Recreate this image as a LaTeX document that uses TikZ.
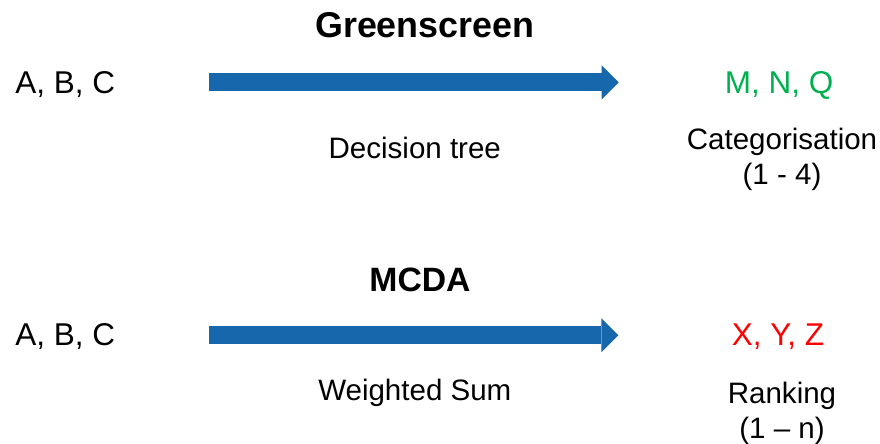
\documentclass[tikz,border=0pt]{standalone}
\usepackage{fontspec}
\setmainfont{Liberation Sans}
\usepackage{xcolor}
\usepackage{tikz}
\usetikzlibrary{arrows.meta, positioning}
\definecolor{myblue}{RGB}{22,103,172}
\definecolor{mygreen}{RGB}{0,176,80}
\definecolor{myred}{RGB}{255,0,0}
\tikzstyle{item} = [inner sep=0pt, font=\fontsize{22.4}{27}\selectfont, text height=0.53cm, text depth=0pt]
\tikzstyle{method} = [inner sep=0pt, font=\fontsize{21}{25}\selectfont, anchor=base]
\tikzstyle{result} = [inner sep=0pt, font=\fontsize{21}{24.9}\selectfont, align=center]
\tikzstyle{title} = [inner sep=0pt, font=\bfseries\fontsize{24}{29}\selectfont, anchor=base]
\tikzstyle{bigarrow} = [line width=0.45cm, myblue, -{Triangle[length=0.425cm, width=0.85cm, line width=0pt]}]

\begin{document}
\begin{tikzpicture}
\useasboundingbox (0,0) rectangle (22,-11.075);

% Greenscreen
\node[title, font=\bfseries\fontsize{25.5}{30}\selectfont] (greenscreen) at (10.62,-0.93) {Greenscreen};
\node[item, anchor=west] (abcone) at (0.375,-2.06) {A, B, C};
\node[item, text=mygreen] (mnq) at (19.48,-2.06) {M, N, Q};
\node[method] (decision) at (10.37,-3.95) {Decision tree};
\node[result, below=0.87cm of mnq, xshift=0.07cm] (categorisation) {Categorisation\\(1 - 4)};
\draw[bigarrow, shorten <=2.35cm, shorten >=2.65cm] (abcone.east) -- (mnq.west);

% MCDA
\node[title] (mcda) at (10.5,-7.28) {MCDA};
\node[item, anchor=west] (abctwo) at (0.375,-8.38) {A, B, C};
\node[item, text=myred] (xyz) at (19.45,-8.38) {X, Y, Z};
\node[method] (weighted) at (10.37,-10.0) {Weighted Sum};
\node[result, below=0.9cm of xyz, xshift=0.1cm] (ranking) {Ranking\\(1 -- n)};
\draw[bigarrow, shorten <=2.35cm, shorten >=2.83cm] (abctwo.east) -- (xyz.west);
\end{tikzpicture}
\end{document}
